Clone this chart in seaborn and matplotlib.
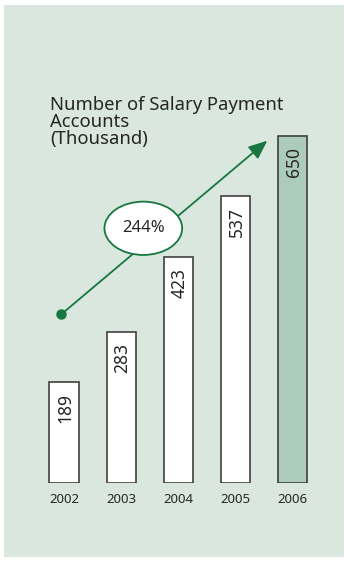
import matplotlib
matplotlib.use("Agg")
import matplotlib.pyplot as plt
from matplotlib.patches import Rectangle, Ellipse
import seaborn as sns
import pandas as pd

years = ["2002", "2003", "2004", "2005", "2006"]
accounts = [189, 283, 423, 537, 650]
growth_label = "244%"
title = "Number of Salary Payment\nAccounts\n(Thousand)"

PANEL = "#d9e7de"
HIGHLIGHT = "#adcbbb"
GREEN = "#18773f"
EDGE = "#404040"
TEXT = "#262626"

sns.set_theme(style="white")
plt.rcParams["font.family"] = ["Noto Sans", "DejaVu Sans"]

W, H = 348, 562
fig = plt.figure(figsize=(W / 100, H / 100), dpi=100, facecolor="white")

# background panel
bg = fig.add_axes([0, 0, 1, 1], zorder=-10)
bg.set_xlim(0, W)
bg.set_ylim(H, 0)
bg.axis("off")
bg.add_patch(Rectangle((4, 5), 340, 552, facecolor=PANEL, edgecolor="none"))

# axes: bottom at bar baseline (y=483 px), spans panel width
ax = fig.add_axes([4 / W, (H - 483) / H, 340 / W, (483 - 5) / H], zorder=1)
ax.set_facecolor("none")

df = pd.DataFrame({"year": years, "value": accounts})
palette = ["white"] * (len(years) - 1) + [HIGHLIGHT]
sns.barplot(data=df, x="year", y="value", hue="year", palette=palette, legend=False,
            width=0.51, edgecolor=EDGE, linewidth=1.2, ax=ax, saturation=1)

px_per_unit = 0.534
ax.set_ylim(0, (483 - 5) / px_per_unit)
step = 57.17
ax.set_xlim((4 - 64) / step, (344 - 64) / step)
for s in ax.spines.values():
    s.set_visible(False)
ax.set_yticks([])
ax.set_xlabel("")
ax.set_ylabel("")
ax.tick_params(axis="x", length=0, pad=7, labelsize=9.5, labelcolor=TEXT)

for i, v in enumerate(accounts):
    ax.annotate(str(v), xy=(i, v), xytext=(1, -8), textcoords="offset points",
                rotation=90, ha="center", va="top", fontsize=12.5, color=TEXT)

# growth arrow
x0, y0 = (61.3 - 64) / step, (483 - 314.3) / px_per_unit
x1, y1 = (267.3 - 64) / step, (483 - 140.7) / px_per_unit
ax.annotate("", xy=(x1, y1), xytext=(x0, y0),
            arrowprops=dict(arrowstyle="-|>,head_length=0.95,head_width=0.4", color=GREEN,
                            lw=1.3, shrinkA=0, shrinkB=0), zorder=3)
ax.plot([x0], [y0], "o", color=GREEN, markersize=6.5, zorder=4)

ex, ey = (143.3 - 64) / step, (483 - 228.3) / px_per_unit
ax.add_patch(Ellipse((ex, ey), 77.7 / step, 53.3 / px_per_unit, facecolor="white",
                     edgecolor=GREEN, lw=1.3, zorder=5))
ax.text(ex, ey, growth_label, ha="center", va="center", fontsize=12, color=TEXT, zorder=6)

fig.text(50 / W, 1 - 96 / H, title, ha="left", va="top", fontsize=13.3, color=TEXT,
         linespacing=0.92)

fig.savefig("out.png", dpi=100, facecolor="white")
